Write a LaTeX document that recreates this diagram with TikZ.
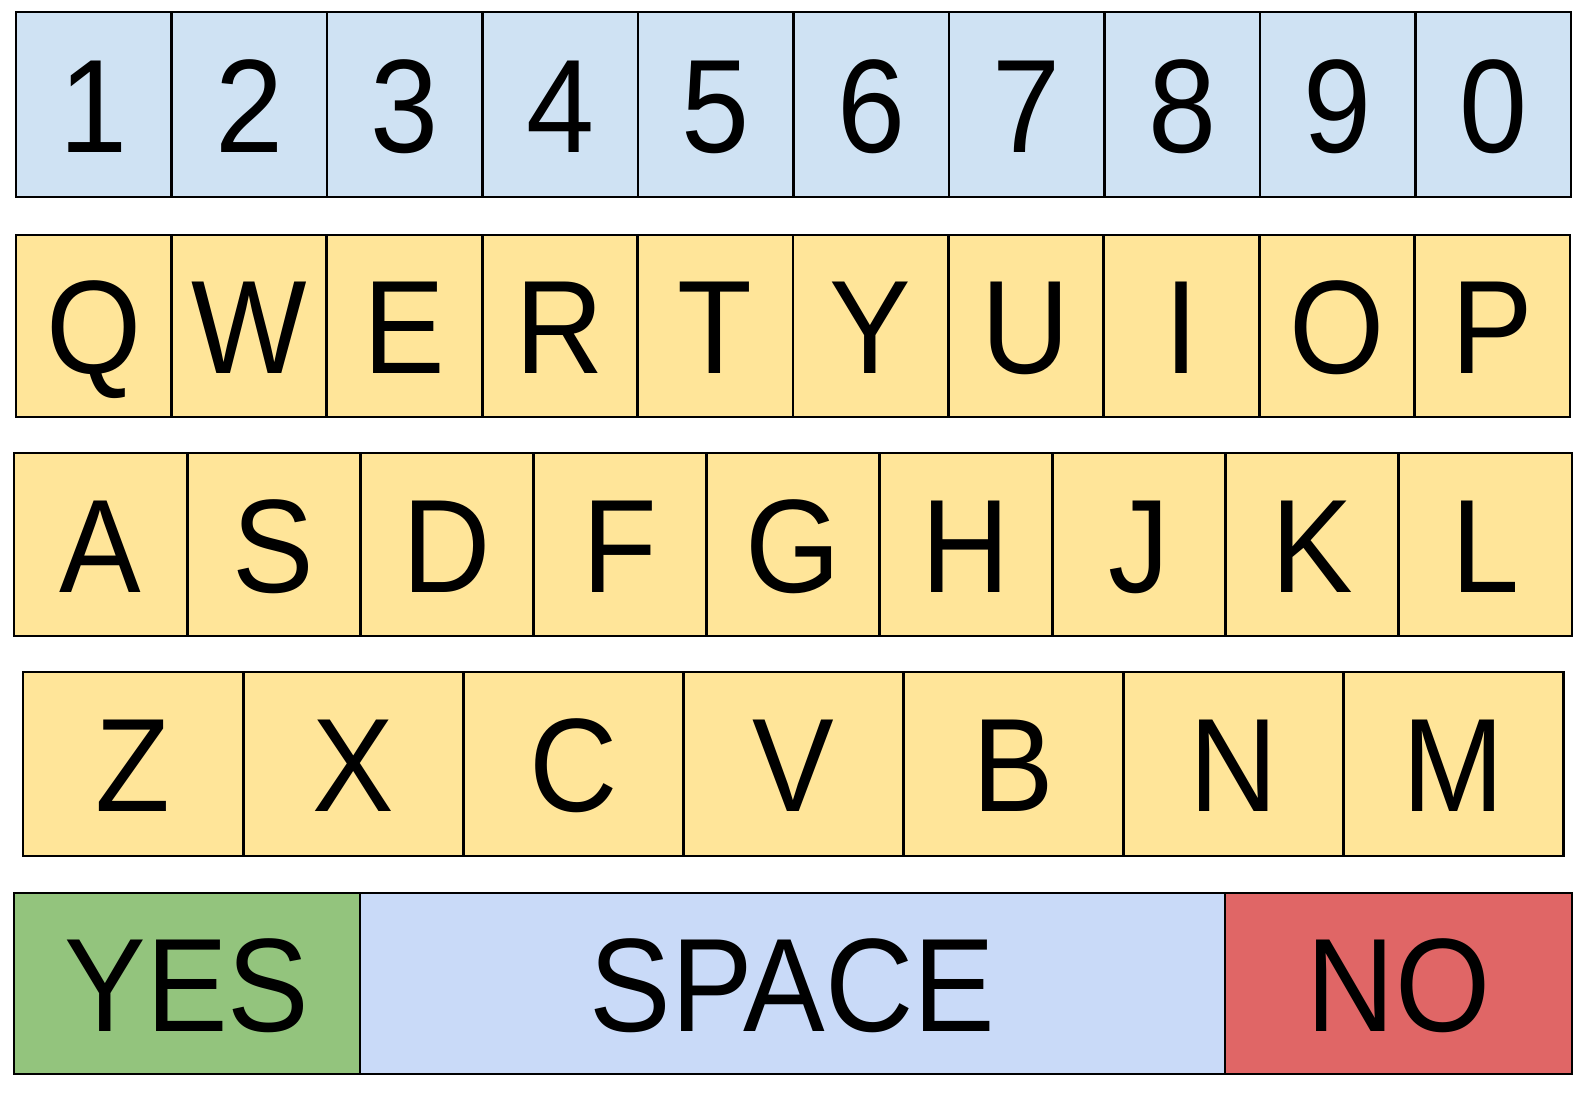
\documentclass[tikz,border=0pt]{standalone}
\usepackage{fontspec}
\setmainfont{Liberation Sans}[FakeStretch=0.92]
\definecolor{numblue}{HTML}{CFE2F3}
\definecolor{keyyellow}{HTML}{FFE599}
\definecolor{yesgreen}{HTML}{93C47D}
\definecolor{spaceblue}{HTML}{C9DAF8}
\definecolor{nored}{HTML}{E06666}
\tikzset{
  key/.style={draw, line width=2.8pt, inner sep=0pt, text height=95pt, text depth=0pt,
    font=\fontsize{133}{140}\selectfont},
}
\begin{document}
\begin{tikzpicture}[x=1pt,y=-1pt]
        \useasboundingbox (0,0) rectangle (1588,1095);
        \foreach \ch [count=\i] in {1,2,3,4,5,6,7,8,9,0}
            \node[key, fill=numblue, minimum width=155.5pt, minimum height=185pt] (n\i) at ({16+(\i-0.5)*155.5},104.5) {\ch};
        \foreach \ch [count=\i] in {Q,W,E,R,T,Y,U,I,O,P}
            \node[key, fill=keyyellow, minimum width=155.4pt, minimum height=182pt] (q\i) at ({16+(\i-0.5)*155.4},326) {\ch};
        \foreach \ch [count=\i] in {A,S,D,F,G,H,J,K,L}
            \node[key, fill=keyyellow, minimum width=173.1pt, minimum height=183pt] (a\i) at ({14+(\i-0.5)*173.1},544.5) {\ch};
        \foreach \ch [count=\i] in {Z,X,C,V,B,N,M}
            \node[key, fill=keyyellow, minimum width=220.1pt, minimum height=184pt] (z\i) at ({23+(\i-0.5)*220.1},764) {\ch};
        \node[key, fill=yesgreen, minimum width=346pt, minimum height=181pt] (yes) at (187,983.5) {YES};
        \node[key, fill=spaceblue, minimum width=865pt, minimum height=181pt] (space) at (792.5,983.5) {SPACE};
        \node[key, fill=nored, minimum width=347pt, minimum height=181pt] (no) at (1398.5,983.5) {NO};
    \end{tikzpicture}
\end{document}
